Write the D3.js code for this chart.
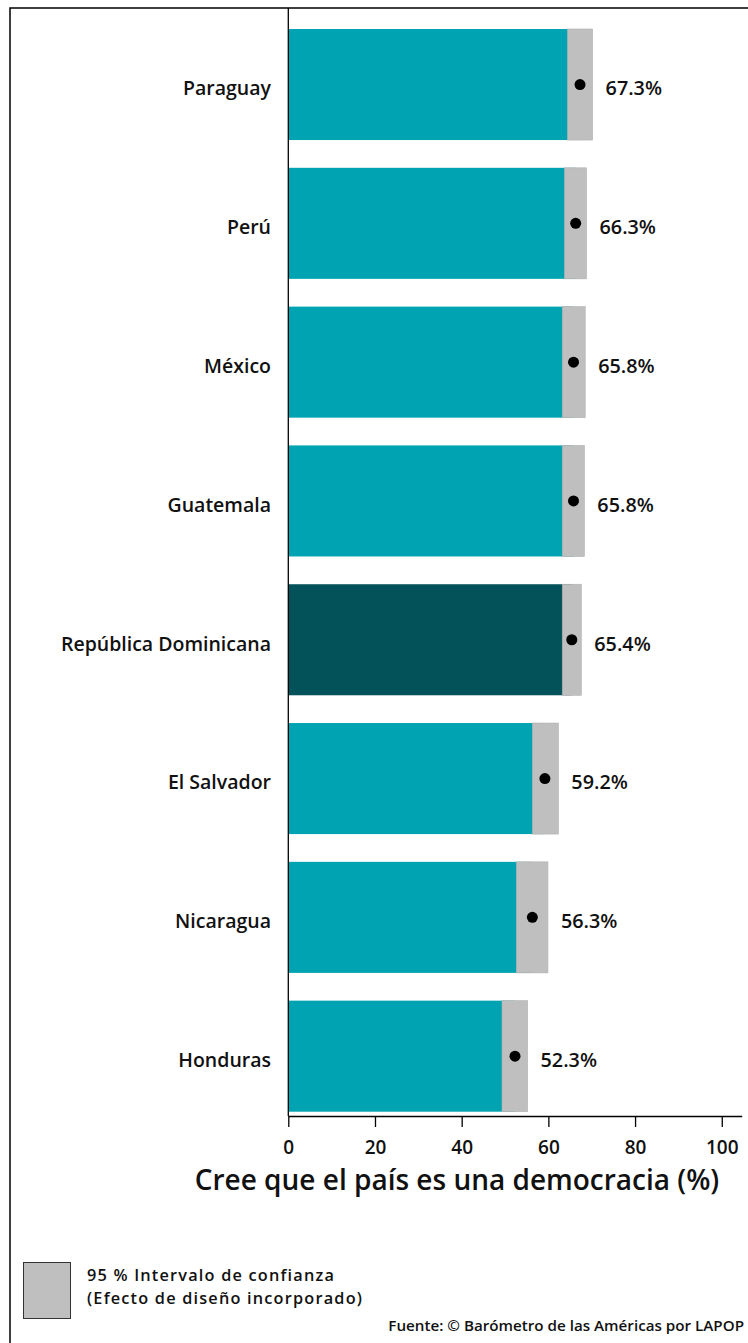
<!DOCTYPE html>
<html><head><meta charset="utf-8">
<script src="https://cdn.jsdelivr.net/npm/d3@7"></script>
<style>body{margin:0;background:#fff}svg{display:block}text{font-family:"Open Sans",sans-serif;fill:#111;font-weight:600}</style>
</head><body>
<script>
const countries = ["Paraguay","Perú","México","Guatemala","República Dominicana","El Salvador","Nicaragua","Honduras"];
const means = [67.3,66.3,65.8,65.8,65.4,59.2,56.3,52.3];
const lower = [64.4,63.7,63.2,63.2,63.2,56.3,52.6,49.3];
const upper = [70.2,68.8,68.5,68.3,67.6,62.3,59.9,55.2];
const highlight = ["República Dominicana"];
const xTicks = [0,20,40,60,80,100];
const legendLines = ["95 % Intervalo de confianza","(Efecto de diseño incorporado)"];
const data = countries.map((c,i)=>({c,m:means[i],lo:lower[i],hi:upper[i]}));

const W=748,H=1343;
const svg=d3.select("body").append("svg").attr("width",W).attr("height",H);
// frame
svg.append("path").attr("d",`M10,${H}V8H${W}`).attr("fill","none").attr("stroke","#000").attr("stroke-width",1.5);

const x=d3.scaleLinear().domain([0,104.6]).range([288.3,741.7]);
const y=d3.scaleBand().domain(countries).range([29,1111.7]).paddingInner(0.2).paddingOuter(0);
const axisY=1116;

const g=svg.append("g");
g.selectAll("rect.bar").data(data).join("rect").attr("class","bar")
 .attr("x",x(0)).attr("y",d=>y(d.c)).attr("width",d=>x(d.m)-x(0)).attr("height",y.bandwidth())
 .attr("fill",d=>highlight.includes(d.c)?"#03525a":"#00a3b1");
g.selectAll("rect.ci").data(data).join("rect").attr("class","ci")
 .attr("x",d=>x(d.lo)).attr("y",d=>y(d.c)).attr("width",d=>x(d.hi)-x(d.lo)).attr("height",y.bandwidth())
 .attr("fill","#bfbfbf").attr("stroke","#b0b0b0").attr("stroke-width",0.6);
g.selectAll("circle").data(data).join("circle")
 .attr("cx",d=>x(d.m)).attr("cy",d=>y(d.c)+y.bandwidth()/2).attr("r",5.5).attr("fill","#000");
g.selectAll("text.val").data(data).join("text").attr("class","val")
 .attr("x",d=>x(d.hi)+13).attr("y",d=>y(d.c)+y.bandwidth()/2+4).attr("dy","0.35em")
 .attr("font-size",19.8).text(d=>d.m.toFixed(1)+"%");
g.selectAll("text.cat").data(data).join("text").attr("class","cat")
 .attr("x",271).attr("y",d=>y(d.c)+y.bandwidth()/2+4).attr("dy","0.35em").attr("text-anchor","end")
 .attr("font-size",19.5).text(d=>d.c);

// y axis line
svg.append("line").attr("x1",x(0)).attr("x2",x(0)).attr("y1",8).attr("y2",axisY).attr("stroke","#000").attr("stroke-width",1.3);
// x axis
const ax=svg.append("g").attr("transform",`translate(0,${axisY})`)
 .call(d3.axisBottom(x).tickValues(xTicks).tickSize(11).tickSizeOuter(0).tickPadding(14));
ax.select(".domain").attr("stroke","#000").attr("stroke-width",1.3);
ax.selectAll(".tick line").attr("stroke","#000").attr("stroke-width",1.3);
ax.selectAll(".tick text").attr("font-size",19).attr("font-family","'Open Sans',sans-serif").attr("fill","#111");

svg.append("text").attr("x",457).attr("y",1190).attr("text-anchor","middle").attr("font-size",28)
 .text("Cree que el país es una democracia (%)");

// legend
svg.append("rect").attr("x",23.5).attr("y",1262.5).attr("width",47).attr("height",56).attr("fill","#bfbfbf").attr("stroke","#333").attr("stroke-width",1);
svg.selectAll("text.leg").data(legendLines).join("text").attr("class","leg")
 .attr("x",87).attr("y",(d,i)=>1281+i*22.5).attr("font-size",16.3).attr("letter-spacing",1.2).text(d=>d);
svg.append("text").attr("x",744).attr("y",1331).attr("text-anchor","end").attr("font-size",15.2)
 .text("Fuente: © Barómetro de las Américas por LAPOP");
</script>
</body></html>
